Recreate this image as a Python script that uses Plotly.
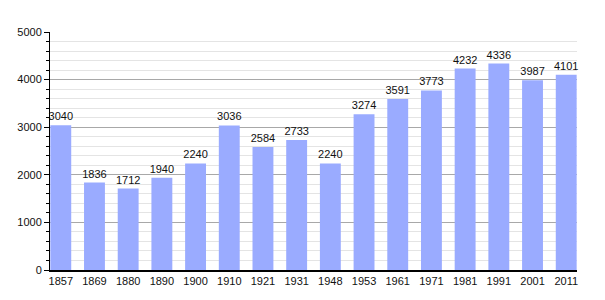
import plotly.graph_objects as go

years = ["1857", "1869", "1880", "1890", "1900", "1910", "1921", "1931", "1948",
         "1953", "1961", "1971", "1981", "1991", "2001", "2011"]
population = [3040, 1836, 1712, 1940, 2240, 3036, 2584, 2733, 2240,
              3274, 3591, 3773, 4232, 4336, 3987, 4101]

fig = go.Figure(go.Bar(
    x=years, y=population,
    text=[str(v) for v in population],
    textposition="outside",
    constraintext="none",
    textfont=dict(size=11, color="#111", family="Liberation Sans, Arial"),
    marker=dict(color="#9aabff", line=dict(width=0)),
    width=0.62,
    cliponaxis=False,
))

fig.update_layout(
    width=605, height=300,
    margin=dict(l=50, r=28, t=32, b=30),
    plot_bgcolor="white", paper_bgcolor="white",
    showlegend=False,
    font=dict(family="Liberation Sans, Arial", size=11, color="#111"),
)
fig.update_xaxes(
    type="category", range=[-0.32, 15.32],
    showline=True, linecolor="black", linewidth=1.5,
    ticks="", showgrid=False, tickfont=dict(size=11),
)
fig.update_yaxes(
    range=[0, 5000], dtick=1000,
    showline=True, linecolor="black", linewidth=1,
    ticks="outside", ticklen=5, tickcolor="black",
    showgrid=True, gridcolor="#a8a8a8", gridwidth=1,
    zeroline=False, tickfont=dict(size=11),
    minor=dict(dtick=200, showgrid=True, gridcolor="#e4e4e4",
               ticks="outside", ticklen=3, tickcolor="black"),
)

fig.write_html("out.html")
